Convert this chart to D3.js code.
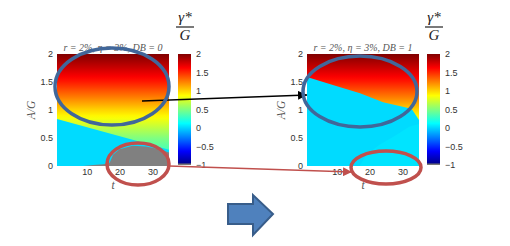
<!DOCTYPE html>
<html>
<head>
<meta charset="utf-8">
<script src="https://cdn.jsdelivr.net/npm/d3@7"></script>
<style>
  body { margin: 0; background: #fff; }
  svg { display: block; }
  .tick text { font-family: "Liberation Sans", Arial, sans-serif; fill: #333; }
  .math { font-family: "Liberation Serif", "DejaVu Serif", serif; font-style: italic; }
</style>
</head>
<body>
<svg id="chart"></svg>
<script>
// ---- data ----
const tTicks = [10, 20, 30];
const agTicks = [0, 0.5, 1, 1.5, 2];
const cbTicks = [2, 1.5, 1, 0.5, 0, -0.5, -1];

// gamma*/G above the switching boundary, as a function of A/G
const profileAG = [0, 0.25, 0.5, 0.75, 1, 1.25, 1.5, 1.75, 2];
const profileValue = [0.02, 0.3, 0.5, 0.75, 1.0, 1.28, 1.55, 1.78, 2.0];
const cyanValue = 0.02;
const lightCyanValue = 0.045;

// DB = 0 panel
const leftBoundaryT = [1, 35];
const leftBoundaryAG = [0.84, 0.29];
const leftGrayT = [9, 12, 15, 17, 18, 20, 24, 28, 32, 35];
const leftGrayAG = [0.0, 0.02, 0.03, 0.06, 0.2, 0.3, 0.36, 0.35, 0.3, 0.24];

// DB = 1 panel
const rightBoundaryT = [1, 8.6, 17.1, 24.1, 31.4, 33, 34, 35];
const rightBoundaryAG = [1.59, 1.45, 1.3, 1.14, 1.04, 1.0, 0.91, 0.82];
const rightLightT = [17, 19, 23, 28, 32, 35, 35];
const rightLightAG = [0.0, 0.2, 0.38, 0.55, 0.7, 0.75, 0.0];

const titles = ["r = 2%, \u03b7 = 3%, DB = 0", "r = 2%, \u03b7 = 3%, DB = 1"];

// ---- setup ----
const W = 510, H = 246;
const svg = d3.select("#chart").attr("width", W).attr("height", H);
const defs = svg.append("defs");

// jet colormap over [-1, 2]
function jet(v) {
  const x = (v + 1) / 3;
  const c = (t) => Math.max(0, Math.min(1, t)) * 255;
  return d3.rgb(c(1.5 - Math.abs(4 * x - 3)), c(1.5 - Math.abs(4 * x - 2)), c(1.5 - Math.abs(4 * x - 1))).toString();
}
const profile = d3.scaleLinear().domain(profileAG).range(profileValue);

const plotTop = 54, plotBottom = 166, plotW = 112;
const ys = d3.scaleLinear().domain([0, 2]).range([plotBottom, plotTop]);
const cb = d3.scaleLinear().domain([-1, 2]).range([165, 54]);

// vertical gradient for the upper region
const grad = defs.append("linearGradient").attr("id", "upper")
  .attr("gradientUnits", "userSpaceOnUse")
  .attr("x1", 0).attr("x2", 0).attr("y1", ys(0)).attr("y2", ys(2));
d3.range(0, 2.0001, 0.05).forEach(a => {
  grad.append("stop").attr("offset", a / 2).attr("stop-color", jet(profile(a)));
});
const cgrad = defs.append("linearGradient").attr("id", "cbar")
  .attr("gradientUnits", "userSpaceOnUse")
  .attr("x1", 0).attr("x2", 0).attr("y1", cb(-1)).attr("y2", cb(2));
d3.range(-1, 2.0001, 0.125).forEach(v => {
  cgrad.append("stop").attr("offset", (v + 1) / 3).attr("stop-color", jet(v));
});

function zip(ts, as) { return ts.map((t, i) => ({ t: t, ag: as[i] })); }

function drawPanel(x0, cbX, title, layers) {
  const xs = d3.scaleLinear().domain([1, 35]).range([x0, x0 + plotW]);
  const g = svg.append("g");
  const area = d3.area().x(d => xs(d.t)).y0(ys(0)).y1(d => ys(d.ag));

  g.append("rect").attr("x", x0).attr("y", plotTop)
    .attr("width", plotW).attr("height", plotBottom - plotTop)
    .attr("fill", "url(#upper)");
  layers.forEach(l => {
    g.append("path").datum(zip(l.t, l.ag)).attr("d", area).attr("fill", l.fill);
  });

  // axes
  const ya = g.append("g").attr("transform", `translate(${x0},0)`)
    .call(d3.axisLeft(ys).tickValues(agTicks).tickSize(0).tickPadding(4).tickFormat(d3.format("~g")));
  const xa = g.append("g").attr("transform", `translate(0,${plotBottom})`)
    .call(d3.axisBottom(xs).tickValues(tTicks).tickSize(0).tickPadding(3));
  [ya, xa].forEach(a => { a.select(".domain").remove(); a.selectAll("text").style("font-size", "9px"); });

  g.append("text").attr("class", "math").attr("x", x0 + plotW / 2).attr("y", 51)
    .attr("text-anchor", "middle").style("font-size", "10px").attr("fill", "#555").text(title);
  g.append("text").attr("class", "math")
    .attr("transform", `translate(${x0 - 22},110) rotate(-90)`)
    .attr("text-anchor", "middle").style("font-size", "11.5px").attr("fill", "#555").text("A/G");
  g.append("text").attr("class", "math").attr("x", x0 + plotW / 2).attr("y", 189)
    .attr("text-anchor", "middle").style("font-size", "11.5px").attr("fill", "#555").text("t");

  // colorbar
  g.append("rect").attr("x", cbX).attr("y", cb(2)).attr("width", 13)
    .attr("height", cb(-1) - cb(2)).attr("fill", "url(#cbar)");
  g.append("rect").attr("x", cbX).attr("y", cb(-1) - 1.5).attr("width", 13)
    .attr("height", 1.5).attr("fill", "#777");
  const ca = g.append("g").attr("transform", `translate(${cbX + 13},0)`)
    .call(d3.axisRight(cb).tickValues(cbTicks).tickSize(0).tickPadding(5).tickFormat(d3.format("~g")));
  ca.select(".domain").remove();
  ca.selectAll("text").style("font-size", "9px");

  // gamma*/G
  const lx = cbX + 7;
  g.append("text").attr("class", "math").attr("x", lx).attr("y", 22)
    .attr("text-anchor", "middle").style("font-size", "15px").attr("fill", "#222").text("\u03b3*");
  g.append("line").attr("x1", lx - 9).attr("x2", lx + 9).attr("y1", 27).attr("y2", 27)
    .attr("stroke", "#222").attr("stroke-width", 1.2);
  g.append("text").attr("class", "math").attr("x", lx).attr("y", 40)
    .attr("text-anchor", "middle").style("font-size", "15px").attr("fill", "#222").text("G");
}

drawPanel(57, 178, titles[0], [
  { t: [1].concat(leftBoundaryT), ag: [0].concat(leftBoundaryAG), fill: jet(cyanValue) },
  { t: leftGrayT, ag: leftGrayAG, fill: "#808080" }
]);
drawPanel(307, 427, titles[1], [
  { t: rightBoundaryT, ag: rightBoundaryAG, fill: jet(cyanValue) },
  { t: rightLightT, ag: rightLightAG, fill: jet(lightCyanValue) }
]);

// ---- annotations ----
function marker(id, color) {
  defs.append("marker").attr("id", id).attr("viewBox", "0 0 10 10")
    .attr("refX", 10).attr("refY", 5).attr("markerWidth", 6).attr("markerHeight", 6)
    .attr("markerUnits", "strokeWidth").attr("orient", "auto")
    .append("path").attr("d", "M0,0L10,5L0,10z").attr("fill", color);
}
marker("ab", "#000");
marker("ar", "#c0504d");

const blue = "#41679a", red = "#c0504d";
svg.append("line").attr("x1", 142).attr("y1", 101).attr("x2", 307).attr("y2", 95)
  .attr("stroke", "#000").attr("stroke-width", 1.5).attr("marker-end", "url(#ab)");
svg.append("line").attr("x1", 169).attr("y1", 166).attr("x2", 352).attr("y2", 172)
  .attr("stroke", red).attr("stroke-width", 1.5).attr("marker-end", "url(#ar)");

[[112, 86.5, 57, 38.5, blue], [360, 91.5, 57, 35.5, blue],
 [138, 164, 31, 21, red], [386, 167.5, 35, 16.5, red]].forEach(e => {
  svg.append("ellipse").attr("cx", e[0]).attr("cy", e[1]).attr("rx", e[2]).attr("ry", e[3])
    .attr("fill", "none").attr("stroke", e[4]).attr("stroke-width", 3.5);
});

// block arrow
svg.append("path")
  .attr("d", "M228,204L253,204L253,195L273,214L253,235L253,224L228,224Z")
  .attr("fill", "#4f81bd").attr("stroke", "#385d8a").attr("stroke-width", 2);
</script>
</body>
</html>
